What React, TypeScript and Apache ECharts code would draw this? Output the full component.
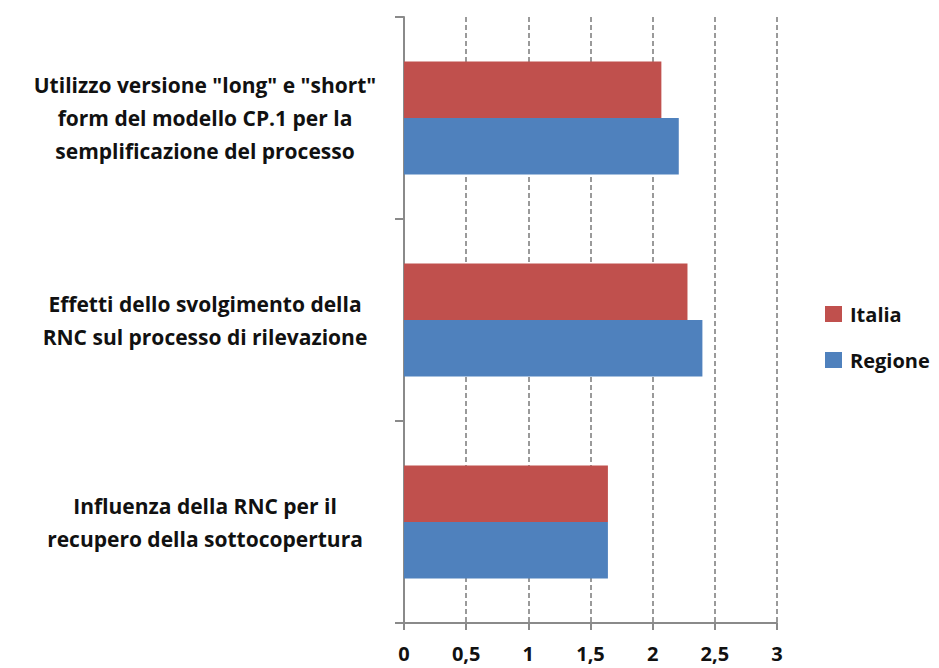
import React, { useEffect, useRef } from "react";
import * as echarts from "echarts";

const categories = [
  "Influenza della RNC per il\nrecupero della sottocopertura",
  "Effetti dello svolgimento della\nRNC sul processo di rilevazione",
  "Utilizzo versione \"long\" e \"short\"\nform del modello CP.1 per la\nsemplificazione del processo",
];
const italia = [1.64, 2.28, 2.07];
const regione = [1.64, 2.4, 2.21];
const xTicks = { min: 0, max: 3, interval: 0.5 };

export default function App() {
  const ref = useRef<HTMLDivElement>(null);
  useEffect(() => {
    if (!ref.current) return;
    const chart = echarts.init(ref.current, undefined, { renderer: "svg" });
    const font = "'Open Sans', sans-serif";
    chart.setOption({
      animation: false,
      backgroundColor: "#ffffff",
      grid: { left: 404, right: 162, top: 17, bottom: 45, containLabel: false },
      legend: {
        orient: "vertical",
        left: 825,
        top: 304,
        padding: 0,
        itemWidth: 17,
        itemHeight: 16,
        itemGap: 26,
        data: ["Italia", "Regione"],
        textStyle: { fontFamily: font, fontWeight: "bold", fontSize: 20, color: "#111", padding: [0, 0, 0, 3] },
        icon: "rect",
      },
      xAxis: {
        type: "value",
        min: xTicks.min,
        max: xTicks.max,
        interval: xTicks.interval,
        axisLine: { show: true, lineStyle: { color: "#8a8a8a", width: 2 } },
        axisTick: { show: true, length: 7, lineStyle: { color: "#8a8a8a", width: 2 } },
        axisLabel: {
          margin: 20,
          fontFamily: font,
          fontWeight: "bold",
          fontSize: 20,
          color: "#111",
          formatter: (v: number) => String(v).replace(".", ","),
        },
        splitLine: {
          show: true,
          lineStyle: { color: "#7a7a7a", width: 1.5, type: [5, 3] },
        },
      },
      yAxis: {
        type: "category",
        data: categories,
        axisLine: { show: true, lineStyle: { color: "#8a8a8a", width: 2 } },
        axisTick: { show: true, length: 9, lineStyle: { color: "#8a8a8a", width: 2 } },
        axisLabel: {
          align: "center",
          margin: 199,
          fontFamily: font,
          fontWeight: "bold",
          fontSize: 21,
          lineHeight: 33,
          color: "#111",
        },
      },
      series: [
        {
          name: "Italia",
          type: "bar",
          data: italia,
          barGap: "0%",
          barCategoryGap: "44%",
          itemStyle: { color: "#C0504D" },
        },
        {
          name: "Regione",
          type: "bar",
          data: regione,
          barGap: "0%",
          barCategoryGap: "44%",
          itemStyle: { color: "#4F81BD" },
        },
      ],
    });
    return () => chart.dispose();
  }, []);
  return (
    <div
      ref={ref}
      style={{ position: "fixed", left: 0, top: 0, width: 939, height: 668, background: "#fff" }}
    />
  );
}
